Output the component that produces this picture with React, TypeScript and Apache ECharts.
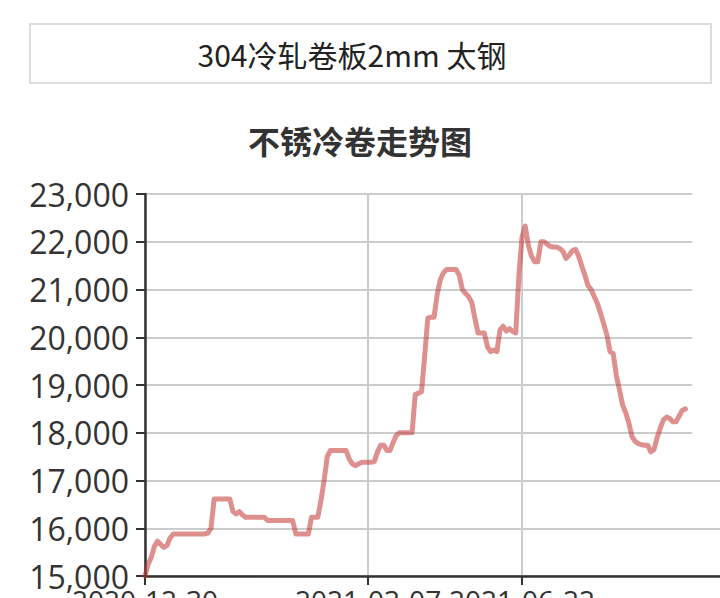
import { useEffect, useRef } from 'react';
import * as echarts from 'echarts';

// 304 cold-rolled coil price (yuan/t)
const pricesEarly = [
  15000, 15250, 15390, 15620, 15730, 15660, 15600, 15640, 15800, 15880,
  15880, 15880, 15880, 15880, 15880, 15880, 15880, 15880, 15880, 15880,
  15900, 16000, 16610, 16610, 16610, 16610, 16610, 16610, 16350, 16300,
  16350, 16280, 16230, 16230, 16230, 16230, 16230, 16230, 16230, 16160,
  16160, 16160, 16160, 16160, 16160, 16160, 16160, 16160, 15880, 15880,
  15880, 15880, 15880, 16230, 16230, 16230, 16580, 17000, 17500, 17630,
];
const pricesMid = [
  17630, 17630, 17630, 17630, 17630, 17450, 17350, 17310, 17350, 17380,
  17380, 17380, 17380, 17400, 17600, 17740, 17740, 17630, 17630, 17800,
  17950, 18000, 18000, 18000, 18000, 18000, 18800, 18830, 18860, 19600,
  20400, 20420, 20420, 20900, 21210, 21350, 21420, 21420, 21420, 21420,
  21300, 21000, 20920, 20850, 20730, 20400, 20090, 20090, 20090, 19800,
  19700, 19730, 19700, 20160, 20230, 20130, 20180, 20120, 20090, 21300,
];
const pricesLate = [
  22100, 22330, 21930, 21700, 21580, 21580, 22000, 22000, 21950, 21900,
  21890, 21890, 21860, 21800, 21650, 21720, 21810, 21840, 21700, 21490,
  21300, 21080, 21000, 20850, 20700, 20500, 20280, 20050, 19700, 19660,
  19200, 18900, 18580, 18420, 18200, 17920, 17820, 17770, 17750, 17740,
  17740, 17600, 17650, 17900, 18100, 18270, 18330, 18300, 18230, 18230,
  18350, 18470, 18500,
];
const prices = [...pricesEarly, ...pricesMid, ...pricesLate];

// the axis runs on past the last price (it is cut off at the right edge)
const categoryCount = 184;
const tickIndex = [0, 71, 120];
const tickLabels = ['2020-12-30', '2021-03-07', '2021-06-22'];
const categories = Array.from({ length: categoryCount }, (_, i) => String(i));

const productName = '304冷轧卷板2mm 太钢';
const chartTitle = '不锈冷卷走势图';

const isTick = (i: number) => tickIndex.includes(i);

export default function App() {
  const chartRef = useRef<HTMLDivElement>(null);

  useEffect(() => {
    if (!chartRef.current) return;
    const chart = echarts.init(chartRef.current, undefined, { renderer: 'svg' });

    chart.setOption({
      animation: false,
      title: {
        text: chartTitle,
        left: 'center',
        top: 124,
        padding: 0,
        textStyle: {
          fontFamily: 'Noto Sans CJK SC',
          fontSize: 32,
          fontWeight: 'bold',
          color: '#333',
        },
      },
      graphic: [
        {
          type: 'rect',
          shape: { x: 30, y: 24, width: 681, height: 59 },
          style: { fill: '#fff', stroke: '#ddd', lineWidth: 2 },
        },
        {
          type: 'text',
          x: 352,
          y: 54,
          style: {
            text: productName,
            fontFamily: 'Noto Sans CJK SC',
            fontSize: 30,
            fill: '#222',
            align: 'center',
            verticalAlign: 'middle',
          },
        },
        {
          type: 'rect',
          z: 100,
          shape: { x: 692, y: 185, width: 28, height: 268 },
          style: { fill: '#fff' },
        },
      ],
      grid: {
        left: 145,
        top: 194,
        right: 0,
        bottom: 22,
        containLabel: false,
        outerBoundsMode: 'none',
      },
      xAxis: {
        type: 'category',
        data: categories,
        boundaryGap: false,
        axisLine: { lineStyle: { color: '#333', width: 2.5 } },
        axisTick: {
          interval: (i: number) => isTick(i),
          length: 9,
          lineStyle: { color: '#333', width: 2 },
        },
        axisLabel: {
          interval: (i: number) => isTick(i),
          formatter: (_v: string, i: number) => tickLabels[tickIndex.indexOf(i)] ?? '',
          hideOverlap: false,
          margin: 10,
          fontFamily: 'Open Sans',
          fontSize: 28,
          color: '#333',
        },
        splitLine: {
          show: true,
          interval: (i: number) => isTick(i),
          lineStyle: { color: '#ccc', width: 2 },
        },
      },
      yAxis: {
        type: 'value',
        min: 15000,
        max: 23000,
        interval: 1000,
        axisLine: { show: true, lineStyle: { color: '#333', width: 2.5 } },
        axisTick: { show: true, length: 9, lineStyle: { color: '#333', width: 2 } },
        axisLabel: {
          formatter: (v: number) => v.toLocaleString('en-US'),
          margin: 16,
          fontFamily: 'Open Sans',
          fontSize: 32,
          color: '#333',
        },
        splitLine: { lineStyle: { color: '#ccc', width: 2 } },
      },
      series: [
        {
          type: 'line',
          data: prices,
          showSymbol: false,
          silent: true,
          lineStyle: {
            color: '#c23531',
            opacity: 0.55,
            width: 5,
            join: 'round',
            cap: 'round',
          },
        },
      ],
    });

    return () => chart.dispose();
  }, []);

  return (
    <div
      ref={chartRef}
      style={{ position: 'absolute', left: 0, top: 0, width: 720, height: 598 }}
    />
  );
}
